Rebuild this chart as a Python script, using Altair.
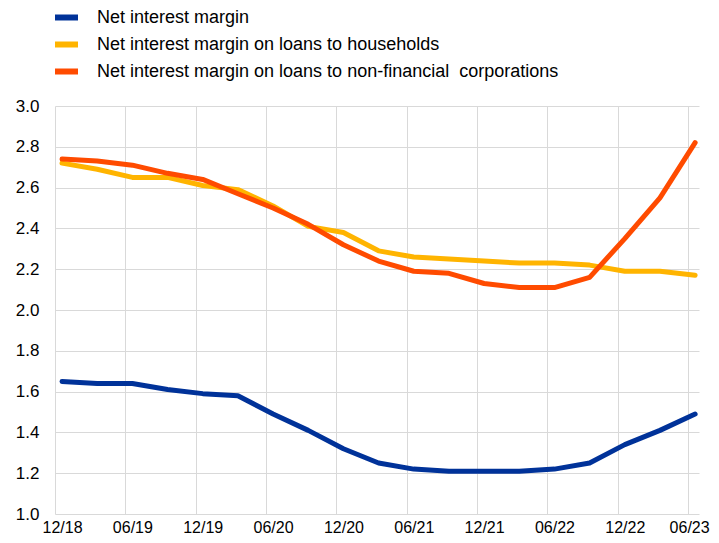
import altair as alt
import pandas as pd

quarters = ["12/18", "03/19", "06/19", "09/19", "12/19", "03/20", "06/20", "09/20", "12/20",
            "03/21", "06/21", "09/21", "12/21", "03/22", "06/22", "09/22", "12/22", "03/23", "06/23"]
net_interest_margin = [1.65, 1.64, 1.64, 1.61, 1.59, 1.58, 1.49, 1.41, 1.32, 1.25,
                       1.22, 1.21, 1.21, 1.21, 1.22, 1.25, 1.34, 1.41, 1.49]
nim_households = [2.72, 2.69, 2.65, 2.65, 2.61, 2.59, 2.51, 2.41, 2.38, 2.29,
                  2.26, 2.25, 2.24, 2.23, 2.23, 2.22, 2.19, 2.19, 2.17]
nim_nfc = [2.74, 2.73, 2.71, 2.67, 2.64, 2.57, 2.50, 2.42, 2.32, 2.24,
           2.19, 2.18, 2.13, 2.11, 2.11, 2.16, 2.35, 2.55, 2.82]

series_names = ["Net interest margin",
                "Net interest margin on loans to households",
                "Net interest margin on loans to non-financial \u00a0corporations"]
series_colors = ["#003299", "#FFB400", "#FF4B00"]
y_ticks = [1.0, 1.2, 1.4, 1.6, 1.8, 2.0, 2.2, 2.4, 2.6, 2.8, 3.0]

rows = []
for name, vals in zip(series_names, [net_interest_margin, nim_households, nim_nfc]):
    for i, (q, v) in enumerate(zip(quarters, vals)):
        rows.append({"idx": i, "quarter": q, "series": name, "value": v, "order": series_names.index(name)})
df = pd.DataFrame(rows)

tick_idx = list(range(0, len(quarters), 2))
tick_labels = [quarters[i] for i in tick_idx]
label_expr = "[" + ",".join("'%s'" % t for t in tick_labels) + "][round(datum.value / 2)]"
last_idx = len(quarters) - 1

FONT = "Liberation Sans"

chart = alt.Chart(df).mark_line(strokeWidth=5, strokeCap="round", strokeJoin="round").encode(
    x=alt.X("idx:Q",
            scale=alt.Scale(domain=[-0.2, 18.11], nice=False, zero=False),
            axis=alt.Axis(values=tick_idx, labelExpr=label_expr, title=None,
                          grid=True, gridColor="#d9d9d9", gridWidth=1,
                          ticks=False, domain=False, tickOffset=-7,
                          labelOffset={"condition": {"test": "datum.value == %d" % last_idx, "value": 1},
                                       "value": 7},
                          labelFont=FONT, labelFontSize=16, labelColor="#000000",
                          labelPadding=5, labelFlush=False, labelOverlap=False)),
    y=alt.Y("value:Q",
            scale=alt.Scale(domain=[1.0, 3.0], nice=False, zero=False),
            axis=alt.Axis(values=y_ticks, format=".1f", title=None,
                          grid=True, gridColor="#d9d9d9", gridWidth=1,
                          ticks=False, domain=False,
                          labelFont=FONT, labelFontSize=17, labelColor="#000000",
                          labelPadding=16)),
    color=alt.Color("series:N",
                    scale=alt.Scale(domain=series_names, range=series_colors),
                    legend=alt.Legend(title=None, orient="none", legendX=-3, legendY=-103,
                                      symbolType="stroke", symbolSize=529, symbolStrokeWidth=6,
                                      labelFont=FONT, labelFontSize=18, labelColor="#000000",
                                      labelOffset=16, rowPadding=0, padding=0, labelLimit=0)),
    order=alt.Order("order:Q"),
    detail="series:N",
).properties(
    width=644, height=408,
    autosize=alt.AutoSizeParams(type="none"),
    padding={"left": 47, "top": 98, "right": 12, "bottom": 21},
).configure_view(stroke=None)

chart.save("out.html", embed_options={"renderer": "svg", "actions": False})
